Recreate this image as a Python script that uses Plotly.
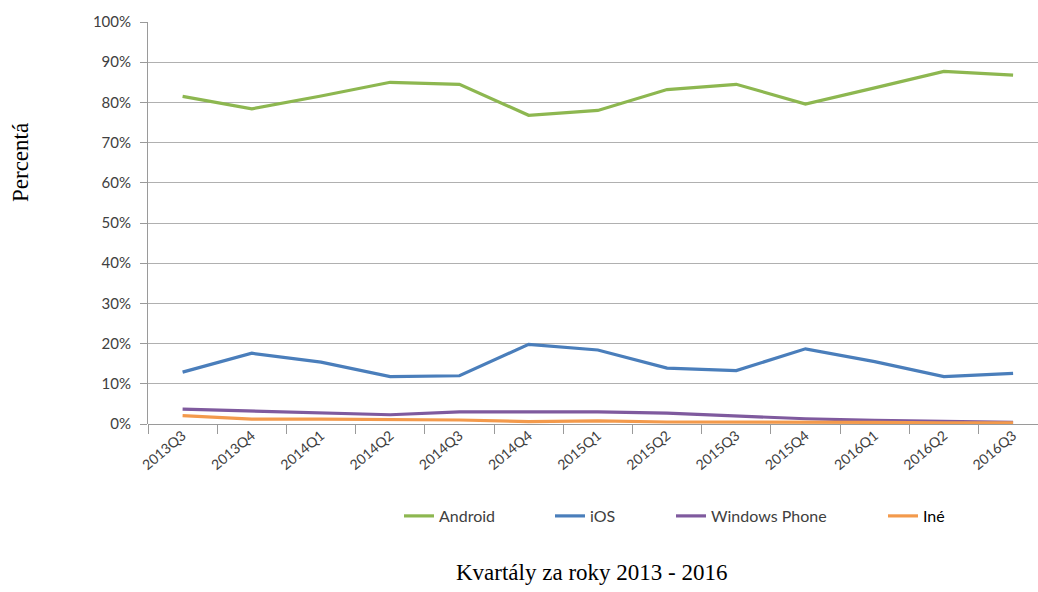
import plotly.graph_objects as go

quarters = ["2013Q3", "2013Q4", "2014Q1", "2014Q2", "2014Q3", "2014Q4", "2015Q1",
            "2015Q2", "2015Q3", "2015Q4", "2016Q1", "2016Q2", "2016Q3"]
android = [81.5, 78.4, 81.6, 85.0, 84.5, 76.8, 78.0, 83.2, 84.5, 79.6, 83.6, 87.7, 86.8]
ios = [12.9, 17.6, 15.4, 11.8, 12.0, 19.8, 18.4, 13.9, 13.3, 18.7, 15.5, 11.8, 12.6]
windows_phone = [3.7, 3.2, 2.7, 2.3, 3.0, 3.0, 3.0, 2.7, 1.9, 1.3, 0.9, 0.6, 0.4]
ine = [2.1, 1.2, 1.2, 1.1, 1.0, 0.6, 0.8, 0.5, 0.5, 0.5, 0.4, 0.3, 0.3]

PL, PR, PT, PB = 148, 1038, 22, 424
pw, ph = PR - PL, PB - PT


def px_x(x):
    return (x - PL) / pw


def px_y(y):
    return (PB - y) / ph


series = [
    ("Android", android, "#8db750", "legend", 399),
    ("iOS", ios, "#4a7ebb", "legend2", 550),
    ("Windows Phone", windows_phone, "#7f5a9e", "legend3", 671),
    ("Iné", ine, "#f39a4c", "legend4", 883),
]

fig = go.Figure()
for name, vals, col, leg, _ in series:
    fig.add_trace(go.Scatter(
        x=quarters, y=[v / 100 for v in vals], name=name, mode="lines",
        line=dict(color=col, width=3.2), legend=leg,
    ))

layout_legends = {}
for name, vals, col, leg, xpix in series:
    layout_legends[leg] = dict(
        x=px_x(xpix), y=px_y(516), xanchor="left", yanchor="middle", orientation="h",
        bgcolor="rgba(0,0,0,0)",
        font=dict(family="Lato, Open Sans, sans-serif", size=16,
                  color="#000000" if name == "Iné" else "#404040"),
        itemwidth=30,
    )

fig.update_layout(
    width=1038, height=592,
    margin=dict(l=PL, r=1038 - PR, t=PT, b=592 - PB),
    plot_bgcolor="white", paper_bgcolor="white",
    showlegend=True,
    **layout_legends,
    xaxis=dict(
        type="category", range=[-0.5, 12.36], showgrid=False,
        showline=False, ticks="outside", tickson="boundaries", ticklen=9,
        tickcolor="#9a9a9a", tickangle=-40,
        tickfont=dict(family="Lato, Open Sans, sans-serif", size=14, color="#404040"),
        zeroline=False,
    ),
    yaxis=dict(
        range=[0, 1.0], dtick=0.1, tickformat=".0%", showgrid=True,
        gridcolor="#b0b0b0", gridwidth=1, showline=True, linecolor="#9a9a9a",
        linewidth=1, tickfont=dict(family="Lato, Open Sans, sans-serif", size=15, color="#404040"),
        ticks="outside", ticklen=7, tickcolor="#9a9a9a", ticklabelstandoff=6,
        zeroline=True, zerolinecolor="#9a9a9a", zerolinewidth=1,
    ),
    annotations=[
        dict(text="Percentá", x=px_x(20), y=px_y(163), xref="paper", yref="paper",
             xanchor="center", yanchor="middle", showarrow=False, textangle=-90,
             font=dict(family="Liberation Serif, Times New Roman, serif", size=23, color="#000000")),
        dict(text="Kvartály za roky 2013 - 2016", x=px_x(591), y=px_y(572), xref="paper", yref="paper",
             xanchor="center", yanchor="middle", showarrow=False,
             font=dict(family="Liberation Serif, Times New Roman, serif", size=23, color="#000000")),
    ],
)

fig.write_html("out.html")
